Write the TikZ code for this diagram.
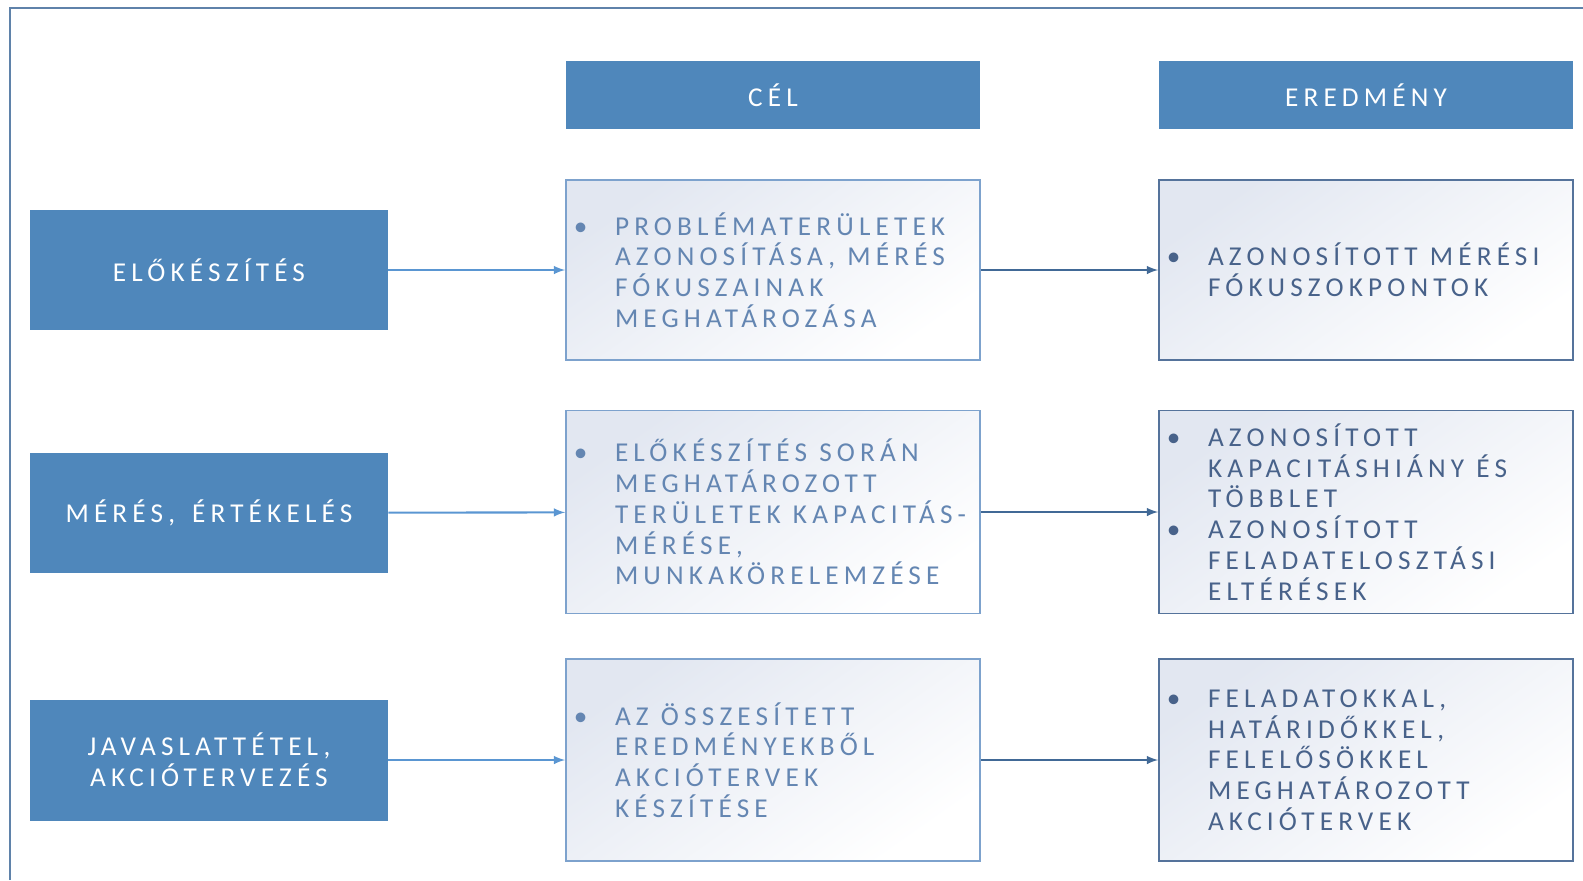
\documentclass[tikz,border=0pt]{standalone}
\usepackage{fontspec}
\setmainfont{Carlito}
\newfontfamily\spaced[LetterSpace=19,WordSpace=1.5]{Carlito}
\usetikzlibrary{shadings}
\definecolor{stepblue}{RGB}{79,135,187}
\definecolor{goalline}{RGB}{125,162,205}
\definecolor{goaltext}{RGB}{100,134,178}
\definecolor{resline}{RGB}{85,115,155}
\definecolor{restext}{RGB}{72,98,138}
\definecolor{arrowlight}{RGB}{90,150,210}
\definecolor{arrowdark}{RGB}{65,105,150}
\definecolor{frameblue}{RGB}{95,130,170}
\definecolor{boxtint}{RGB}{226,231,241}
\newcommand{\boxfont}{\spaced\fontsize{15.5}{17.5}\selectfont}
\newcommand{\bul}{\leftskip=0.88cm\spaceskip=0.45em\leavevmode\llap{\textbullet\hspace{0.55cm}}}

\begin{document}
\begin{tikzpicture}[x=0.02cm,y=-0.02cm,
	stepbox/.style={fill=stepblue,text=white,inner sep=0pt,minimum width=7.16cm,minimum height=2.42cm,align=center,font=\boxfont},
	headbox/.style={fill=stepblue,text=white,inner sep=0pt,minimum width=8.28cm,minimum height=1.36cm,font=\boxfont},
	goalbox/.style={draw=goalline,line width=1.1pt,top color=boxtint,bottom color=white,shading angle=35,text=goaltext,text width=8.08cm,inner xsep=0.1cm,align=left,font=\boxfont},
	resbox/.style={goalbox,draw=resline,text=restext},
	lightarrow/.style={-latex,line width=1.2pt,draw=arrowlight},
	darkarrow/.style={-latex,line width=1.2pt,draw=arrowdark}]
	\useasboundingbox (0,0) rectangle (1583,880);
	\draw[frameblue,line width=1.1pt] (10,880) -- (10,8) -- (1583,8);
	\node[headbox] (goalhead) at (773,95) {CÉL};
	\node[headbox] (reshead) at (1366,95) {EREDMÉNY};
	\node[stepbox] (prep) at (209,270) {ELŐKÉSZÍTÉS};
	\node[stepbox] (meas) at (209,513) {MÉRÉS, ÉRTÉKELÉS};
	\node[stepbox] (plan) at (209,760) {JAVASLATTÉTEL,\\AKCIÓTERVEZÉS};
	\node[goalbox,minimum height=3.6cm] (goal1) at (773,270) {\bul PROBLÉMATERÜLETEK\\AZONOSÍTÁSA, MÉRÉS\\FÓKUSZAINAK\\MEGHATÁROZÁSA\par};
	\node[goalbox,minimum height=4.06cm] (goal2) at (773,512) {\bul ELŐKÉSZÍTÉS SORÁN\\MEGHATÁROZOTT\\\mbox{TERÜLETEK KAPACITÁS-}\\MÉRÉSE,\\MUNKAKÖRELEMZÉSE\par};
	\node[goalbox,minimum height=4.04cm] (goal3) at (773,760) {\bul AZ ÖSSZESÍTETT\\EREDMÉNYEKBŐL\\AKCIÓTERVEK\\KÉSZÍTÉSE\par};
	\node[resbox,minimum height=3.6cm] (res1) at (1366,270) {\bul AZONOSÍTOTT MÉRÉSI\\FÓKUSZOKPONTOK\par};
	\node[resbox,minimum height=4.06cm] (res2) at (1366,512) {\bul AZONOSÍTOTT\\KAPACITÁSHIÁNY ÉS\\TÖBBLET\\\bul AZONOSÍTOTT\\FELADATELOSZTÁSI\\ELTÉRÉSEK\par};
	\node[resbox,minimum height=4.04cm] (res3) at (1366,760) {\bul FELADATOKKAL,\\HATÁRIDŐKKEL,\\FELELŐSÖKKEL\\MEGHATÁROZOTT\\AKCIÓTERVEK\par};
	\draw[lightarrow] (prep) -- (goal1);
	\draw[lightarrow] (meas) -- (goal2);
	\draw[lightarrow] (plan) -- (goal3);
	\draw[darkarrow] (goal1) -- (res1);
	\draw[darkarrow] (goal2) -- (res2);
	\draw[darkarrow] (goal3) -- (res3);
\end{tikzpicture}
\end{document}
